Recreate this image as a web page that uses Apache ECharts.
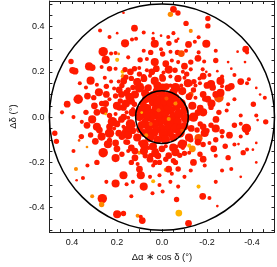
<!DOCTYPE html>
<html><head><meta charset="utf-8">
<script src="https://cdn.jsdelivr.net/npm/echarts@6/dist/echarts.min.js"></script>
<style>html,body{margin:0;padding:0;background:#fff}#c{width:277px;height:267px}</style>
</head><body><div id="c"></div>
<script>
// [dx, dy, sizeValue, colourClass]
const corePoints = [
[0,0,8,0],[0.02,0.01,7,0],[-0.015,0.022,7,0],[0.01,-0.02,7,0],[-0.022,-0.015,8,0],
[0.04,0.02,6,0],[0.035,-0.03,7,0],[-0.04,0.03,6,0],[-0.045,-0.02,7,0],[0.005,0.045,8,0],[0,-0.05,6,0],[0.05,0,7,0],[-0.05,0.005,6,0],[0.03,0.04,5,0],[-0.025,0.05,7,0],[0.025,-0.055,6,0],[-0.03,-0.045,7,0],
[0.07,0.01,7,0],[0.065,0.04,6,0],[0.06,-0.04,7,0],[0.075,-0.02,5,0],[0.04,0.065,6,0],[0.02,0.075,7,0],[-0.01,0.07,6,0],[-0.04,0.065,7,0],[-0.065,0.045,6,0],[-0.075,0.015,7,0],[-0.07,-0.02,6,0],[-0.06,-0.05,7,0],[-0.035,-0.07,6,0],[-0.005,-0.075,7,0],[0.035,-0.07,6,0],[0.055,-0.06,5,0],[0.08,0.05,5,0],[-0.08,-0.045,5,0],
[0.1,0,6,0],[0.095,0.03,7,0],[0.09,-0.035,6,0],[0.085,0.06,5,0],[0.07,0.08,6,0],[0.04,0.095,7,0],[0,0.1,6,0],[-0.03,0.095,7,0],[-0.06,0.085,6,0],[-0.085,0.06,7,0],[-0.1,0.03,6,0],[-0.105,-0.005,7,0],[-0.1,-0.04,6,0],[-0.08,-0.07,7,0],[-0.05,-0.09,6,0],[-0.015,-0.1,7,0],[0.02,-0.1,6,0],[0.055,-0.09,7,0],[0.08,-0.07,6,0],[0.1,-0.055,5,0],
[0.015,0.03,3,1],[-0.03,-0.008,3,2],[0.05,-0.03,3,1],[-0.06,0.06,3,2],[-0.02,0.082,3,1],[0.07,-0.08,3,2],[0.09,0.02,2,3],[-0.09,-0.06,3,1]
];
const ringPoints = [
[0.13,0.02,6,0],[0.14,-0.03,7,0],[0.135,0.07,5,0],[0.12,0.1,6,0],[0.1,0.13,7,0],[0.06,0.13,5,0],[0.02,0.14,6,0],[-0.02,0.135,5,0],[-0.06,0.13,7,0],[-0.09,0.115,6,0],[-0.12,0.09,5,0],[-0.135,0.05,6,0],[-0.14,0,7,0],[-0.13,-0.05,5,0],[-0.12,-0.09,6,0],[-0.09,-0.12,7,0],[-0.05,-0.135,6,0],[0,-0.14,5,0],[0.04,-0.13,6,0],[0.08,-0.12,7,0],[0.11,-0.09,6,0],[0.13,-0.06,5,0],
[0.17,0,5,0],[0.16,0.06,6,0],[0.165,-0.07,5,0],[0.15,0.12,4,0],[0.08,0.17,5,0],[0,0.18,4,0],[-0.07,0.17,5,0],[-0.14,0.12,4,0],[-0.17,0.04,5,0],[-0.17,-0.03,4,0],[-0.16,-0.11,5,0],[-0.1,-0.16,4,0],[-0.03,-0.17,5,0],[0.05,-0.17,4,0],[0.12,-0.15,5,0],[0.16,-0.11,4,0],[0.19,0.04,4,0],[0.2,-0.03,5,0],[0.18,0.1,5,0],[-0.19,0.08,4,0],[-0.2,-0.06,4,0],[0.1,0.19,4,0],[-0.11,0.19,4,0],[0.03,-0.2,4,0],[-0.06,-0.2,4,0],
[0.11,0.155,6,0],[0.045,0.2,5,0],[-0.03,0.21,6,0],[-0.1,0.225,5,0],[0.14,0.2,5,0],[0.02,0.115,7,0],[-0.05,0.11,6,0],[0.075,0.105,6,0],[-0.115,0.15,6,0],[0.17,0.16,5,0],
[0.2,0.05,6,0],[0.22,-0.02,7,0],[0.18,-0.01,5,0],[0.25,0.06,5,0],[0.145,0.09,6,0],[0.19,0.12,5,0],[0.3,0.05,5,0],[0.31,-0.01,6,0],[0.28,0.11,6,0],[0.24,-0.12,6,0],[0.2,-0.14,5,0],[0.15,-0.08,6,0],
[-0.2,0.14,5,0],[-0.22,0.06,6,0],[-0.24,-0.01,5,0],[-0.19,-0.07,6,0],[-0.26,0.16,6,0],[-0.3,-0.08,5,0],[-0.23,-0.14,5,0],[-0.16,0.02,5,0],
[0.08,-0.15,6,0],[-0.03,-0.23,5,0],[0.1,-0.23,5,0],[-0.14,-0.2,5,0],[0.03,-0.16,6,0],[-0.06,-0.155,6,0],[0.12,-0.18,5,0]
];
const northPoints = [
[-0.051,0.476,5,0],[-0.071,0.46,4,0],[-0.0375,0.454,4,2],[0.171,0.461,2,0],[-0.204,0.436,4,0],[-0.107,0.414,4,0],[-0.204,0.403,4,0],[-0.128,0.381,3,2],
[0.122,0.393,5,0],[0.081,0.374,3,0],[0.275,0.383,3,0],[0.199,0.371,2,0],[0.039,0.371,2,0],[-0.028,0.354,3,0],[-0.051,0.371,3,0],[0.039,0.346,3,0],[0.004,0.36,2,0],[0.115,0.346,3,0],[0.233,0.354,3,0],[-0.163,0.353,3,0],[-0.072,0.346,2,0],
[0.164,0.326,6,0],[0.133,0.343,3,0],[0.032,0.324,6,0],[-0.031,0.326,4,0],[-0.063,0.336,3,0],[-0.118,0.321,5,0],[-0.146,0.333,3,0],[-0.197,0.324,6,0],
[0.261,0.289,7,0],[0.226,0.281,3,0],[0.206,0.283,3,0],[0.081,0.293,3,0],[0.05,0.286,4,0],[0.004,0.3,3,0],[-0.003,0.279,4,0],[-0.038,0.289,3,0],[-0.069,0.286,4,0],[-0.086,0.281,5,1],[-0.107,0.293,3,0],[-0.163,0.286,3,0],[-0.239,0.293,3,0],[-0.336,0.289,2,0],[-0.372,0.3,5,0],[-0.378,0.286,3,0],
[0.404,0.246,4,0],[0.25,0.253,6,0],[0.199,0.253,3,3],[0.192,0.279,2,2],[0.15,0.264,3,0],[0.097,0.253,4,0],[0.067,0.257,3,0],[0.032,0.243,6,0],[-0.017,0.236,5,0],[-0.044,0.25,3,0],[-0.072,0.243,3,0],[-0.128,0.243,4,0],[-0.16,0.26,5,0],[-0.1875,0.246,3,0],[-0.239,0.25,4,0],[-0.294,0.243,2,0],[-0.369,0.243,2,0],
[0.324,0.224,6,0],[0.31,0.219,5,0],[0.268,0.221,3,0],[0.233,0.214,4,0],[0.206,0.214,3,0],[0.175,0.2,3,3],[0.164,0.21,4,0],[0.122,0.214,4,0],[0.101,0.217,3,0],[0.067,0.207,3,0],[0.025,0.214,5,0],[-0.007,0.197,3,0],[-0.058,0.207,4,0],[-0.093,0.2,3,0],[-0.128,0.211,3,0],[-0.181,0.211,3,0],[-0.197,0.2,2,0],[-0.246,0.203,2,0],[-0.308,0.214,2,0],[0.397,0.207,5,0],[0.386,0.203,5,0],
[0.174,0.181,3,2],[0.16,0.176,4,0],[0.317,0.161,6,0],[0.254,0.174,3,0],[0.226,0.157,3,0],[0.192,0.157,3,0],[0.136,0.171,4,0],[0.106,0.164,3,0],[0.081,0.179,4,0],[0.053,0.183,3,0],[0.032,0.16,6,0],[-0.003,0.171,5,0],[-0.0375,0.179,3,0],[-0.072,0.171,5,0],[-0.1,0.174,3,0],[-0.142,0.157,4,0],[-0.167,0.171,3,0],[-0.183,0.181,5,0],[-0.211,0.186,3,0],[-0.267,0.179,3,0],[-0.322,0.186,3,0],[-0.386,0.167,3,0],
[0.365,0.15,3,0],[0.3375,0.131,3,0],[0.289,0.143,3,0],[0.247,0.136,4,0],[0.2125,0.126,3,0],[0.178,0.14,4,0],[0.129,0.131,4,0],[0.094,0.14,4,1],[0.067,0.129,4,0],[-0.003,0.131,6,0],[-0.0375,0.14,3,0],[-0.058,0.129,4,0],[-0.086,0.14,3,0],[-0.128,0.146,3,0],[-0.149,0.14,3,0],[-0.169,0.15,3,0],[-0.218,0.146,6,0],[-0.225,0.131,5,0],[-0.267,0.136,3,0],[-0.294,0.129,5,0],[-0.308,0.136,5,0],[-0.35,0.157,5,0],[-0.378,0.15,3,0],[-0.419,0.129,2,0]
];
const middlePoints = [
[0.421,0.057,5,0],[0.372,0.079,7,0],[0.331,0.093,5,0],[0.303,0.086,4,0],[0.247,0.1,5,0],[0.233,0.079,3,0],[0.268,0.06,4,0],[0.206,0.093,4,0],[0.185,0.071,4,0],[0.157,0.107,5,0],[0.136,0.086,4,0],[0.122,0.057,4,0],
[-0.128,0.1,4,1],[-0.149,0.086,3,0],[-0.183,0.1,5,0],[-0.204,0.079,5,0],[-0.253,0.086,7,1],[-0.26,0.107,6,0],[-0.239,0.1,5,0],[-0.294,0.057,3,0],[-0.322,0.079,3,0],[-0.406,0.057,4,0],[-0.457,0.086,3,0],[-0.436,0.1,2,0],
[0.444,0.021,3,0],[0.393,0,3,0],[0.3375,0.021,4,0],[0.289,0.021,5,0],[0.258,0.029,6,0],[0.233,0.007,4,0],[0.206,0.014,3,0],[0.171,0.043,5,0],[0.157,0.021,3,0],[0.129,0.036,3,0],[0.15,-0.003,3,0],[0.25,0.014,2,3],
[-0.169,0.043,3,0],[-0.183,0.021,6,0],[-0.218,0.043,4,0],[-0.253,0.021,4,0],[-0.2875,0.029,3,0],[-0.35,0.007,3,0],[-0.419,0.007,3,0],[-0.461,-0.021,4,0],[-0.425,-0.013,2,0],
[0.476,-0.071,4,0],[0.469,-0.107,4,0],[0.356,-0.021,3,0],[0.333,-0.036,5,0],[0.289,-0.043,6,0],[0.278,-0.057,5,0],[0.233,-0.043,5,0],[0.2125,-0.05,3,0],[0.171,-0.043,3,0],[0.157,-0.057,6,0],[0.129,-0.036,4,0],[0.233,-0.071,7,0],[0.192,-0.071,5,0],
[-0.156,-0.057,4,0],[-0.183,-0.043,5,0],[-0.218,-0.036,4,0],[-0.239,-0.05,6,0],[-0.267,-0.064,4,0],[-0.322,-0.036,4,0],[-0.35,-0.029,3,0],[-0.375,-0.05,7,0],[-0.378,-0.071,3,0],[-0.34,-0.119,2,0],[-0.404,-0.144,2,0]
];
const southPoints = [
[0.393,-0.15,3,0],[0.358,-0.086,4,0],[0.317,-0.079,4,0],[0.296,-0.107,5,0],[0.268,-0.086,6,0],[0.233,-0.103,4,0],[0.206,-0.114,5,0],[0.178,-0.086,5,0],[0.153,-0.111,4,0],[0.136,-0.136,5,0],[0.094,-0.114,4,0],[0.06,-0.136,3,0],[0.025,-0.146,3,0],[-0.017,-0.129,3,0],[-0.065,-0.131,3,0],[-0.093,-0.136,3,0],[-0.121,-0.126,3,3],[-0.135,-0.14,5,2],[-0.1625,-0.093,6,1],[-0.128,-0.1,4,0],[-0.1,-0.114,4,0],[-0.183,-0.121,4,0],[-0.211,-0.114,3,0],[-0.239,-0.1,4,0],[-0.267,-0.086,3,0],[-0.35,-0.086,3,0],[-0.378,-0.143,3,0],[-0.419,-0.114,2,0],[-0.322,-0.121,3,0],[-0.281,-0.129,4,0],[0.333,-0.132,2,2],[0.368,-0.103,2,1],
[0.261,-0.157,7,0],[0.206,-0.181,6,0],[0.178,-0.164,4,0],[0.15,-0.15,3,0],[0.101,-0.157,3,2],[0.074,-0.171,4,0],[0.053,-0.186,5,0],[0.018,-0.171,5,0],[0.011,-0.2,4,0],[-0.017,-0.186,4,0],[-0.051,-0.193,4,0],[-0.079,-0.169,4,0],[-0.121,-0.157,3,0],[-0.169,-0.164,4,0],[-0.183,-0.186,5,0],[-0.239,-0.171,3,0],[-0.294,-0.179,4,0],[-0.361,-0.157,4,0],[-0.419,-0.2,2,0],
[0.382,-0.229,3,2],[0.331,-0.214,3,0],[0.289,-0.2,4,0],[0.136,-0.2,4,0],[0.108,-0.207,3,0],[0.039,-0.214,3,0],[-0.017,-0.233,3,2],[-0.072,-0.229,4,0],[-0.128,-0.236,3,0],[-0.19,-0.214,3,0],[-0.308,-0.229,3,0],
[0.171,-0.257,6,0],[0.094,-0.257,6,0],[0.053,-0.264,3,0],[0.039,-0.283,3,3],[0.011,-0.257,3,0],[-0.044,-0.25,3,0],[-0.1,-0.264,3,0],[0.129,-0.286,3,0],[0.247,-0.286,3,0],[0.351,-0.269,3,0],[0.379,-0.279,2,0],[0.206,-0.293,6,0],[0.157,-0.297,3,0],[0.081,-0.307,6,0],[0.011,-0.3,3,0],[-0.0375,-0.286,3,0],[-0.072,-0.307,3,0],[-0.1625,-0.307,3,3],[-0.239,-0.286,3,0],[-0.267,-0.236,3,0],[-0.35,-0.264,2,0],
[0.31,-0.35,3,2],[0.265,-0.36,7,0],[0.268,-0.386,4,2],[0.136,-0.35,3,0],[0.042,-0.336,3,0],[-0.003,-0.329,3,0],[-0.065,-0.364,4,0],[-0.181,-0.35,5,0],[-0.211,-0.357,3,0],[-0.246,-0.393,2,0],
[0.199,-0.429,6,0],[0.171,-0.426,4,0],[0.108,-0.436,3,2],[0.094,-0.44,3,0],[0.0875,-0.457,5,0],[-0.075,-0.424,5,3],[-0.118,-0.469,5,0]
];
const circleRadii = [0.5, 0.117];
const labelTicks = [-0.4,-0.2,0,0.2,0.4];
const tickValues = [-0.5,-0.45,-0.4,-0.35,-0.3,-0.25,-0.2,-0.15,-0.1,-0.05,0,0.05,0.1,0.15,0.2,0.25,0.3,0.35,0.4,0.45,0.5];

const palette = ['#ff1a00','#ff4a00','#ff8a00','#ffb400'];
const allPoints = [].concat(northPoints, middlePoints, southPoints, ringPoints, corePoints);
const FONT = 'Liberation Sans, Arial, Helvetica, sans-serif';
const XR = {min:-0.5, max:0.5}, YR = {min:-0.508, max:0.513};
const axLine = {show:true, onZero:false, lineStyle:{color:'#222', width:1}};
const tick = {show:true, inside:true, length:3, customValues:tickValues, lineStyle:{color:'#222'}};
const nameStyle = {fontFamily:FONT, fontSize:9.5, color:'#111'};
const lab = (m)=>({show:true, customValues:labelTicks, formatter:v=>v.toFixed(1), color:'#111', fontFamily:FONT, fontSize:9, margin:m});
const chart = echarts.init(document.getElementById('c'), null, {renderer:'canvas'});
chart.setOption({
  animation:false,
  backgroundColor:'#fff',
  grid:{left:36, right:2.5, top:1, bottom:28, containLabel:false},
  xAxis:[
    {type:'value', min:XR.min, max:XR.max, inverse:true, position:'bottom', axisLine:axLine, axisTick:tick, splitLine:{show:false}, axisLabel:lab(6),
     name:'Δα ∗ cos δ (°)', nameLocation:'middle', nameGap:14, nameTextStyle:nameStyle},
    {type:'value', min:XR.min, max:XR.max, inverse:true, position:'top', axisLine:axLine, axisTick:tick, splitLine:{show:false}, axisLabel:{show:false}}
  ],
  yAxis:[
    {type:'value', min:YR.min, max:YR.max, position:'left', axisLine:axLine, axisTick:tick, splitLine:{show:false}, axisLabel:lab(5),
     name:'Δδ (°)', nameLocation:'middle', nameGap:24, nameRotate:90, nameTextStyle:nameStyle},
    {type:'value', min:YR.min, max:YR.max, position:'right', axisLine:axLine, axisTick:tick, splitLine:{show:false}, axisLabel:{show:false}}
  ],
  series:[
    {type:'scatter', xAxisIndex:0, yAxisIndex:0, data:allPoints, z:2,
     symbol:'circle', symbolSize:v=>v[2]*1.35,
     itemStyle:{color:p=>palette[p.value[3]], opacity:1},
     emphasis:{disabled:true}},
    {type:'custom', xAxisIndex:0, yAxisIndex:0, clip:false, z:20, silent:true,
     data:circleRadii.map(r=>[0,0,r]),
     encode:{x:0, y:1},
     renderItem:function(params, api){
       const c = api.coord([api.value(0), api.value(1)]);
       const s = api.size([api.value(2), api.value(2)]);
       return {type:'ellipse', z2:100, shape:{cx:c[0], cy:c[1], rx:s[0], ry:s[1]},
               style:{fill:'none', stroke:'#000', lineWidth:1.5}};
     }}
  ]
});
</script></body></html>
